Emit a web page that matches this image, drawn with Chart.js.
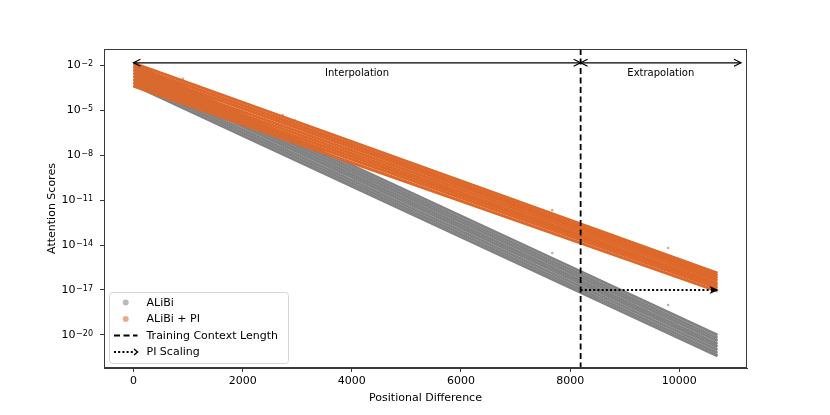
<!DOCTYPE html>
<html>
<head>
<meta charset="utf-8">
<script src="https://cdn.jsdelivr.net/npm/chart.js@4.4.1/dist/chart.umd.min.js"></script>
<style>
	html, body { margin: 0; padding: 0; background: #fff; }
</style>
</head>
<body>
<canvas id="grafic" width="830" height="415"></canvas>
<script>
// Dades llegides de la imatge (cada ratlla va de la posició 0 a la 10700)
const posicions = [0, 10700];
const alibiInici = [1.17e-2, 7.4e-3, 4.7e-3, 2.95e-3, 1.86e-3, 1.17e-3, 7.4e-4, 4.7e-4];
const alibiFinal = [1.0e-20, 6.3e-21, 4.0e-21, 2.5e-21, 1.6e-21, 1.0e-21, 6.3e-22, 4.0e-22];
const piInici = [1.32e-2, 8.3e-3, 5.0e-3, 3.0e-3, 1.9e-3, 1.12e-3, 6.8e-4, 4.0e-4];
const piFinal = [1.32e-16, 8.9e-17, 6.3e-17, 4.2e-17, 2.8e-17, 2.0e-17, 1.32e-17, 8.5e-18];

// Punts solts fora de les bandes
const alibiSoltsX = [7673, 9795];
const alibiSoltsY = [2.9e-15, 1.0e-18];
const piSoltsX = [629, 904, 2733, 2953, 7673, 9795];
const piSoltsY = [2.1e-3, 1.2e-3, 4.7e-6, 2.1e-6, 2.1e-12, 6.3e-15];

// Línies i fletxes
const contextEntrenament = 8192;
const escalaPIX = [8192, 10700];
const escalaPIY = 1e-17;
const fletxesY = 0.014;
const interpolacioX = [0, 8192];
const extrapolacioX = [8192, 11130];

// Eixos
const ticksX = [0, 2000, 4000, 6000, 8000, 10000];
const ticksY = [1e-2, 1e-5, 1e-8, 1e-11, 1e-14, 1e-17, 1e-20];
const limitsX = [-540, 11240];
const limitsY = [1.17e-1, 6.3e-23];

const colorGris = 'rgb(130,130,130)';
const colorTaronja = 'rgb(221,104,42)';
const font = "'DejaVu Sans', sans-serif";

let datasets = [];
// escalat PI
datasets.push({
	data: [{ x: escalaPIX[0], y: escalaPIY }, { x: escalaPIX[1], y: escalaPIY }],
	showLine: true, pointRadius: 0, borderColor: '#000', borderWidth: 2, borderDash: [2, 2.2]
});
// longitud de context d'entrenament
datasets.push({
	data: [{ x: contextEntrenament, y: limitsY[0] }, { x: contextEntrenament, y: limitsY[1] }],
	showLine: true, pointRadius: 0, borderColor: '#000', borderWidth: 1.8, borderDash: [6, 3.5]
});
// taronja abans perquè quedi per sobre del gris
for (let i in piInici) {
	datasets.push({
		data: [{ x: posicions[0], y: piInici[i] }, { x: posicions[1], y: piFinal[i] }],
		showLine: true, pointRadius: 0, borderColor: colorTaronja, borderWidth: 3
	});
}
datasets.push({
	data: piSoltsX.map((x, i) => ({ x: x, y: piSoltsY[i] })),
	pointRadius: 1.3, backgroundColor: 'rgba(221,104,42,0.6)', borderWidth: 0
});
for (let i in alibiInici) {
	datasets.push({
		data: [{ x: posicions[0], y: alibiInici[i] }, { x: posicions[1], y: alibiFinal[i] }],
		showLine: true, pointRadius: 0, borderColor: colorGris, borderWidth: 3
	});
}
datasets.push({
	data: alibiSoltsX.map((x, i) => ({ x: x, y: alibiSoltsY[i] })),
	pointRadius: 1.3, backgroundColor: 'rgba(130,130,130,0.6)', borderWidth: 0
});

function fletxaOberta(ctx, x, y, dir) {
	ctx.beginPath();
	ctx.moveTo(x - dir * 7, y - 3.5);
	ctx.lineTo(x, y);
	ctx.lineTo(x - dir * 7, y + 3.5);
	ctx.stroke();
}

const extres = {
	id: 'extres',
	afterDraw(chart) {
		const ctx = chart.ctx, xs = chart.scales.x, ys = chart.scales.y, a = chart.chartArea;
		ctx.save();
		// marc
		ctx.strokeStyle = '#3a3a3a';
		ctx.lineWidth = 1;
		ctx.strokeRect(a.left + 0.5, a.top + 0.5, a.right - a.left - 1, a.bottom - a.top - 1);

		// etiquetes de l'eix Y amb exponent
		ctx.fillStyle = '#000';
		ctx.textAlign = 'right';
		ticksY.forEach(v => {
			let y = ys.getPixelForValue(v);
			let exp = '\u2212' + String(-Math.round(Math.log10(v)));
			ctx.font = '8px ' + font;
			let w = ctx.measureText(exp).width;
			ctx.textBaseline = 'alphabetic';
			ctx.fillText(exp, 93, y + 1);
			ctx.font = '11px ' + font;
			ctx.textBaseline = 'middle';
			ctx.fillText('10', 93 - w - 0.5, y + 0.5);
		});

		// fletxes d'interpolació i extrapolació
		let fy = ys.getPixelForValue(fletxesY);
		ctx.strokeStyle = '#000';
		ctx.lineWidth = 1.2;
		[interpolacioX, extrapolacioX].forEach(r => {
			let x0 = xs.getPixelForValue(r[0]), x1 = xs.getPixelForValue(r[1]);
			ctx.beginPath();
			ctx.moveTo(x0, fy);
			ctx.lineTo(x1, fy);
			ctx.stroke();
			fletxaOberta(ctx, x0, fy, -1);
			fletxaOberta(ctx, x1, fy, 1);
		});
		ctx.fillStyle = '#000';
		ctx.font = '10px ' + font;
		ctx.textAlign = 'center';
		ctx.textBaseline = 'middle';
		ctx.fillText('Interpolation', xs.getPixelForValue((interpolacioX[0] + interpolacioX[1]) / 2), fy + 10.5);
		ctx.fillText('Extrapolation', xs.getPixelForValue((extrapolacioX[0] + extrapolacioX[1]) / 2), fy + 10.5);

		// punta de l'escalat PI
		let px = xs.getPixelForValue(escalaPIX[1]), py = ys.getPixelForValue(escalaPIY);
		ctx.beginPath();
		ctx.moveTo(px + 1, py);
		ctx.lineTo(px - 8, py - 4);
		ctx.lineTo(px - 5.5, py);
		ctx.lineTo(px - 8, py + 4);
		ctx.closePath();
		ctx.fill();

		// llegenda
		let lx = 109.5, ly = 292.5, lw = 179, lh = 71;
		ctx.beginPath();
		ctx.roundRect(lx, ly, lw, lh, 3);
		ctx.fillStyle = 'rgba(255,255,255,0.85)';
		ctx.fill();
		ctx.strokeStyle = '#d6d6d6';
		ctx.lineWidth = 1;
		ctx.stroke();
		let files = [302.5, 319, 335.5, 352];
		ctx.textAlign = 'left';
		ctx.font = '11px ' + font;
		ctx.fillStyle = 'rgba(130,130,130,0.55)';
		ctx.beginPath(); ctx.arc(125.7, files[0], 3, 0, Math.PI * 2); ctx.fill();
		ctx.fillStyle = 'rgba(221,104,42,0.55)';
		ctx.beginPath(); ctx.arc(125.7, files[1], 3, 0, Math.PI * 2); ctx.fill();
		ctx.strokeStyle = '#000';
		ctx.lineWidth = 1.8;
		ctx.setLineDash([6, 3.5]);
		ctx.beginPath(); ctx.moveTo(114, files[2]); ctx.lineTo(137.5, files[2]); ctx.stroke();
		ctx.lineWidth = 2;
		ctx.setLineDash([2, 2.2]);
		ctx.beginPath(); ctx.moveTo(114, files[3]); ctx.lineTo(134, files[3]); ctx.stroke();
		ctx.setLineDash([]);
		ctx.lineWidth = 1.5;
		ctx.beginPath(); ctx.moveTo(134, files[3] - 3); ctx.lineTo(137.5, files[3]); ctx.lineTo(134, files[3] + 3); ctx.stroke();
		ctx.fillStyle = '#000';
		['ALiBi', 'ALiBi + PI', 'Training Context Length', 'PI Scaling'].forEach((t, i) => {
			ctx.fillText(t, 146.5, files[i] + 0.5);
		});
		ctx.restore();
	}
};

new Chart(document.getElementById('grafic'), {
	type: 'scatter',
	data: { datasets: datasets },
	options: {
		responsive: false,
		animation: false,
		layout: { padding: { left: 0, top: 49, right: 83, bottom: 0 } },
		plugins: { legend: { display: false }, tooltip: { enabled: false } },
		scales: {
			x: {
				type: 'linear',
				min: limitsX[0], max: limitsX[1],
				afterBuildTicks: (s) => { s.ticks = ticksX.map(v => ({ value: v })); },
				afterFit: (s) => { s.height = 47; },
				ticks: { color: '#000', font: { family: font, size: 11 }, padding: 3, maxRotation: 0, callback: (v) => String(v) },
				grid: { drawOnChartArea: false, drawTicks: true, tickLength: 4, color: '#3a3a3a' },
				border: { display: true, color: '#3a3a3a' },
				title: { display: true, text: 'Positional Difference', color: '#000', font: { family: font, size: 11 }, padding: { top: 0, bottom: 10 } }
			},
			y: {
				type: 'logarithmic',
				min: limitsY[1], max: limitsY[0],
				afterBuildTicks: (s) => { s.ticks = ticksY.map(v => ({ value: v })); },
				afterFit: (s) => { s.width = 104; },
				ticks: { color: '#000', font: { family: font, size: 11 }, padding: 6, callback: () => '' },
				grid: { drawOnChartArea: false, drawTicks: true, tickLength: 4, color: '#3a3a3a' },
				border: { display: true, color: '#3a3a3a' },
				title: { display: true, text: 'Attention Scores', color: '#000', font: { family: font, size: 11 }, padding: { top: 46, bottom: 0 } }
			}
		}
	},
	plugins: [extres]
});
</script>
</body>
</html>
